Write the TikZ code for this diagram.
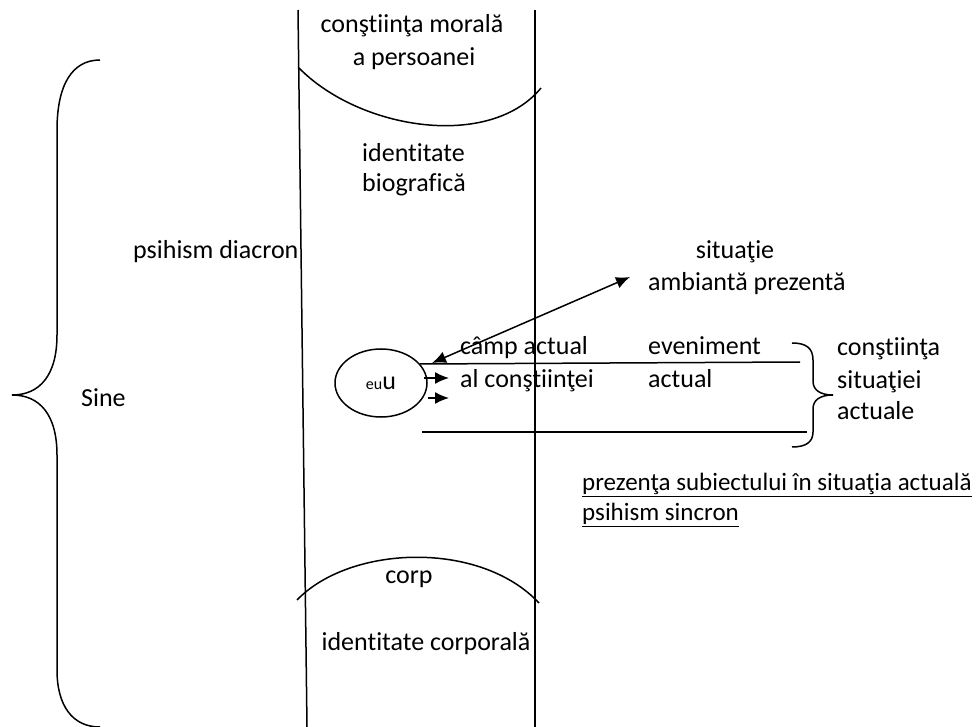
\documentclass[tikz,border=0pt]{standalone}
\usepackage{fontspec}
\setmainfont[Ligatures={NoCommon,NoContextual,NoRequired}]{Carlito}
\newcommand{\Tsep}{\kern0pt\relax}
\usetikzlibrary{shapes.geometric,arrows.meta}
\tikzset{
  txt/.style={inner sep=0pt, font=\fontsize{26}{32}\selectfont},
  ln/.style={line width=1.5pt, black},
  arr/.style={ln, -{Latex[length=14pt,width=12pt]}},
  darr/.style={ln, {Latex[length=14pt,width=12pt]}-{Latex[length=14pt,width=12pt]}},
}
\begin{document}
\begin{tikzpicture}[x=1pt,y=-1pt]
\useasboundingbox (0,0) rectangle (978,727);
% columns
\draw[ln] (298,10) -- (307,727);
\draw[ln] (535,10) -- (535,727);
% arcs
\draw[ln] (299,68) .. controls (360,130) and (490,150) .. (541,88);
\draw[ln] (297,600) .. controls (350,545) and (480,540) .. (539,603);
% column texts
\node[txt] (t1) at (412,26) {conşt\Tsep iinţa morală};
\node[txt] (t2) at (414,59) {a persoanei};
\node[txt, anchor=mid west] (t3) at (362,159) {ident\Tsep itate};
\node[txt, anchor=mid west] (t4) at (362,189) {biografică};
\node[txt] (t5) at (409,579) {corp};
\node[txt] (t6) at (426,644) {ident\Tsep itate corporală};
% left brace
\draw[ln] (100,60) .. controls (72,60) and (57,85) .. (57,130) -- (57,335)
  .. controls (57,375) and (40,395) .. (12,395)
  .. controls (40,395) and (57,415) .. (57,455) -- (57,670)
  .. controls (57,705) and (72,727) .. (100,727);
\node[txt, anchor=mid west] (psd) at (133,256) {psihism diacron};
\node[txt, anchor=mid west] (sine) at (81,404) {Sine};
% ego
\node[ellipse, draw, line width=1.5pt, minimum width=92pt, minimum height=68pt, inner sep=0pt] (eu) at (381,383)
  {\fontsize{16}{18}\selectfont eu\fontsize{26}{32}\selectfont u};
% situation
\node[txt] (sit) at (735,252) {situaţ\Tsep ie};
\node[txt, anchor=mid west] (amb) at (648,288) {ambiantă prezentă};
\coordinate (d1) at (432,363);
\coordinate (d2) at (630,277);
\draw[darr] (d1) -- (d2);
% field lines
\coordinate (l1a) at (420,364);
\coordinate (l1b) at (800,362);
\draw[ln] (l1a) -- (l1b);
\coordinate (l2a) at (422,432);
\coordinate (l2b) at (807,432);
\draw[ln] (l2a) -- (l2b);
\coordinate (s1a) at (424,378);
\coordinate (s1b) at (449,378);
\draw[arr] (s1a) -- (s1b);
\coordinate (s2a) at (428,398);
\coordinate (s2b) at (449,398);
\draw[arr] (s2a) -- (s2b);
\node[txt, anchor=mid west] (c1) at (460,352) {câmp actual};
\node[txt, anchor=mid west] (c2) at (460,385) {al conşt\Tsep iinţei};
\node[txt, anchor=mid west] (e1) at (648,352) {eveniment};
\node[txt, anchor=mid west] (e2) at (648,385) {actual};
% right brace
\draw[ln] (792,343) .. controls (806,343) and (813,348) .. (813,360) -- (813,381)
  .. controls (813,390) and (820,395) .. (833,395)
  .. controls (820,395) and (813,400) .. (813,409) -- (813,432)
  .. controls (813,442) and (806,447) .. (792,447);
\node[txt, anchor=mid west] (r1) at (837,353) {conşt\Tsep iinţa};
\node[txt, anchor=mid west] (r2) at (837,386) {situaţ\Tsep iei};
\node[txt, anchor=mid west] (r3) at (837,417) {actuale};
% underlined
\node[txt, anchor=mid west, font=\fontsize{25}{30}\selectfont] (u1) at (582,488) {\underline{prezenţa subiectului în situaţ\Tsep ia actuală}};
\node[txt, anchor=mid west, font=\fontsize{25}{30}\selectfont] (u2) at (582,518) {\underline{psihism sincron}};
\end{tikzpicture}
\end{document}
